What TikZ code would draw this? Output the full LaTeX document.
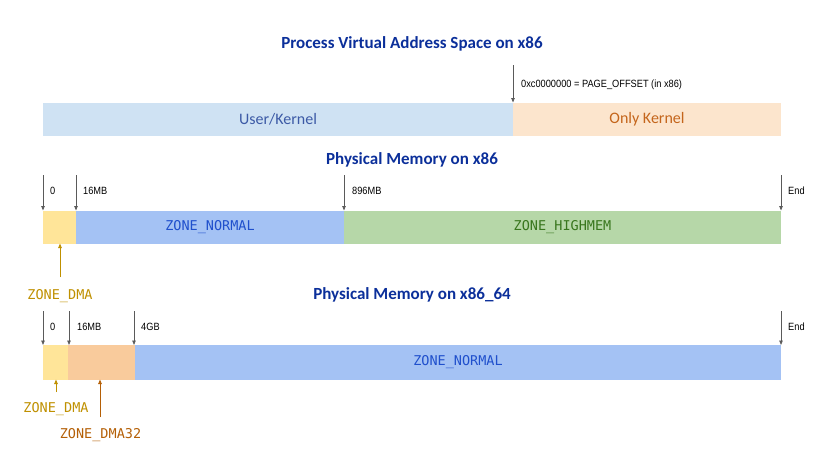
\documentclass[tikz,border=0pt]{standalone}
\usepackage{fontspec}
\setmainfont{Carlito}
\newfontfamily\labfont[FakeStretch=0.88]{Liberation Sans}
\newfontfamily\zonefont{DejaVu Sans Mono}
\usetikzlibrary{arrows.meta}
\definecolor{titleblue}{HTML}{0B2F9A}
\definecolor{ukfill}{HTML}{CFE2F3}
\definecolor{uktext}{HTML}{3C5AA6}
\definecolor{okfill}{HTML}{FCE5CD}
\definecolor{oktext}{HTML}{C4651B}
\definecolor{dmafill}{HTML}{FFE599}
\definecolor{normfill}{HTML}{A4C2F4}
\definecolor{normtext}{HTML}{1F4FCC}
\definecolor{highfill}{HTML}{B6D7A8}
\definecolor{hightext}{HTML}{38761D}
\definecolor{d32fill}{HTML}{F9CB9C}
\definecolor{dmatext}{HTML}{BF9000}
\definecolor{d32text}{HTML}{B45F06}
\definecolor{arrowgray}{HTML}{5A5A5A}
\tikzset{
  seg/.style={anchor=north west, inner sep=0pt, outer sep=0pt, minimum height=33pt},
  title/.style={font=\fontsize{17}{20}\selectfont\bfseries, text=titleblue, inner sep=0pt},
  ptr/.style={draw=arrowgray, line width=0.8pt, -{Triangle[length=4.5pt,width=3.5pt]}},
  addr/.style={anchor=west, inner sep=0pt, font=\labfont\fontsize{10.5}{12}\selectfont},
  zone/.style={font=\zonefont\fontsize{13.5}{15}\selectfont},
  bigtext/.style={font=\fontsize{16}{18}\selectfont},
  dmaptr/.style={draw=dmatext, line width=0.8pt, -{Triangle[length=4.5pt,width=3.5pt]}},
  d32ptr/.style={draw=d32text, line width=0.8pt, -{Triangle[length=4.5pt,width=3.5pt]}}
}
\begin{document}
\begin{tikzpicture}[x=1pt,y=1pt]
\useasboundingbox (0,0) rectangle (832,-448);
% ---------- virtual address space ----------
\node[title] (t1) at (412,-44) {Process Virtual Address Space on x86};
\node[seg, minimum width=470pt, fill=ukfill, text=uktext, bigtext] (uk) at (43,-102.5) {User/Kernel};
\node[seg, minimum width=268pt, fill=okfill, text=oktext, bigtext] (ok) at (513,-102.5) {Only Kernel};
\coordinate (p0) at (513,-65);
\draw[ptr] (p0) -- (ok.north west);
\node[addr] (po) at (521,-85) {0xc0000000 = PAGE\_OFFSET (in x86)};
% ---------- physical memory x86 ----------
\node[title] (t2) at (412,-160) {Physical Memory on x86};
\node[seg, minimum width=33pt, fill=dmafill] (a) at (43,-210.5) {};
\node[seg, minimum width=268pt, fill=normfill, text=normtext, zone] (b) at (76,-210.5) {ZONE\_NORMAL};
\node[seg, minimum width=437pt, fill=highfill, text=hightext, zone] (c) at (344,-210.5) {ZONE\_HIGHMEM};
\coordinate (q1) at (43,-175);
\coordinate (q2) at (76,-175);
\coordinate (q3) at (344,-175);
\coordinate (q4) at (781,-175);
\draw[ptr] (q1) -- (a.north west);
\draw[ptr] (q2) -- (b.north west);
\draw[ptr] (q3) -- (c.north west);
\draw[ptr] (q4) -- (c.north east);
\node[addr] (l1) at (50,-191) {0};
\node[addr] (l2) at (83,-191) {16MB};
\node[addr] (l3) at (352,-191) {896MB};
\node[addr] (l4) at (788,-191) {End};
\node[zone, text=dmatext, inner sep=0pt] (zd1) at (60,-296.5) {ZONE\_DMA};
\coordinate (r1) at (60,-277);
\draw[dmaptr] (r1) -- (a.south -| r1);
% ---------- physical memory x86_64 ----------
\node[title] (t3) at (412,-295) {Physical Memory on x86\_64};
\node[seg, minimum width=25pt, minimum height=34.5pt, fill=dmafill] (d) at (43,-345) {};
\node[seg, minimum width=67pt, minimum height=34.5pt, fill=d32fill] (e) at (68,-345) {};
\node[seg, minimum width=646pt, minimum height=34.5pt, fill=normfill, text=normtext, zone] (f) at (135,-345) {ZONE\_NORMAL};
\coordinate (s1) at (43,-311);
\coordinate (s2) at (69,-311);
\coordinate (s3) at (134,-311);
\coordinate (s4) at (781,-311);
\draw[ptr] (s1) -- (d.north west);
\draw[ptr] (s2) -- (s2 |- e.north);
\draw[ptr] (s3) -- (s3 |- f.north);
\draw[ptr] (s4) -- (f.north east);
\node[addr] (m1) at (50,-327) {0};
\node[addr] (m2) at (77,-327) {16MB};
\node[addr] (m3) at (141,-327) {4GB};
\node[addr] (m4) at (788,-327) {End};
\node[zone, text=dmatext, inner sep=0pt] (zd2) at (56,-409) {ZONE\_DMA};
\coordinate (u1) at (56,-392);
\draw[dmaptr] (u1) -- (d.south -| u1);
\node[zone, text=d32text, inner sep=0pt] (zd3) at (100.5,-435) {ZONE\_DMA32};
\coordinate (u2) at (100,-417);
\draw[d32ptr] (u2) -- (e.south -| u2);
\end{tikzpicture}
\end{document}
